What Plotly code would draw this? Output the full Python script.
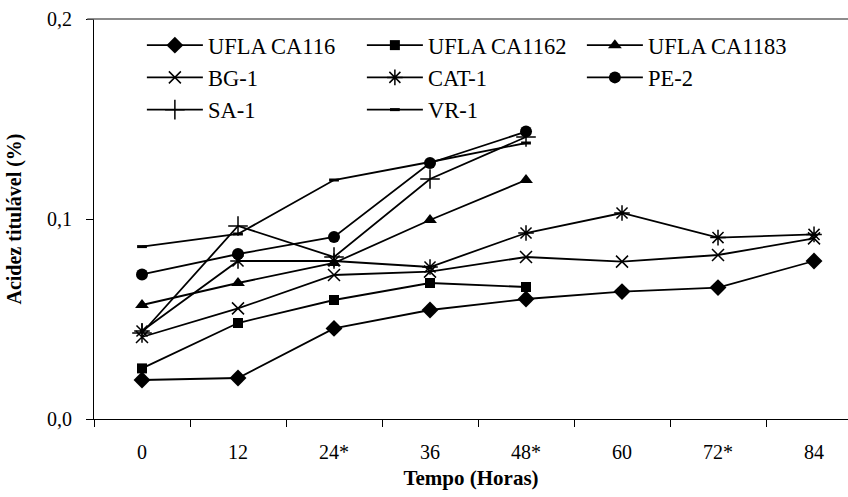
import plotly.graph_objects as go

categories = ["0", "12", "24*", "36", "48*", "60", "72*", "84"]

ufla_ca116 = [0.0195, 0.0205, 0.0453, 0.0545, 0.060, 0.0637, 0.0657, 0.079]
ufla_ca1162 = [0.0253, 0.048, 0.0595, 0.068, 0.066]
ufla_ca1183 = [0.057, 0.068, 0.078, 0.0995, 0.1195]
bg1 = [0.041, 0.0553, 0.072, 0.0737, 0.081, 0.0787, 0.082, 0.0903]
cat1 = [0.044, 0.079, 0.079, 0.076, 0.093, 0.103, 0.0907, 0.0923]
pe2 = [0.0723, 0.0825, 0.091, 0.128, 0.1437]
sa1 = [0.043, 0.0965, 0.081, 0.120, 0.141]
vr1 = [0.0862, 0.0925, 0.1195, 0.1285, 0.138]

series = [
    ("UFLA CA116", ufla_ca116, "diamond", 13, 0),
    ("UFLA CA1162", ufla_ca1162, "square", 10, 0),
    ("UFLA CA1183", ufla_ca1183, "triangle-up", 12, 0),
    ("BG-1", bg1, "x-thin-open", 12, 1.5),
    ("CAT-1", cat1, "asterisk-open", 13, 1.5),
    ("PE-2", pe2, "circle", 12, 0),
    ("SA-1", sa1, "cross-thin-open", 14, 1.5),
    ("VR-1", vr1, "line-ew-open", 7, 3),
]

FONT = "Liberation Serif, Times New Roman, serif"

fig = go.Figure()
for name, vals, sym, size, lw in series:
    fig.add_trace(go.Scatter(
        x=categories[:len(vals)], y=vals, name=name, mode="lines+markers",
        line=dict(color="black", width=1.8),
        marker=dict(symbol=sym, size=size, color="black",
                    line=dict(color="black", width=lw)),
    ))

fig.update_layout(
    width=848, height=497,
    margin=dict(l=94, r=0, t=19, b=78, autoexpand=False),
    paper_bgcolor="white", plot_bgcolor="white",
    separators=",.",
    font=dict(family=FONT, color="black", size=20),
    showlegend=True,
    legend=dict(
        orientation="h", xref="paper", yref="paper",
        x=0.0635, y=0.9875, xanchor="left", yanchor="top",
        entrywidth=149, entrywidthmode="pixels", itemwidth=56,
        font=dict(family=FONT, size=22.5, color="black"),
        bgcolor="rgba(0,0,0,0)", traceorder="normal",
    ),
    xaxis=dict(
        type="category", categoryorder="array", categoryarray=categories,
        range=[-0.5, 7.354], showgrid=False, zeroline=False,
        showline=True, linecolor="black", linewidth=1,
        ticks="outside", ticklen=7, tickcolor="black", tickson="boundaries",
        ticklabelstandoff=15,
        tickfont=dict(family=FONT, size=20),
        title=dict(text="<b>Tempo (Horas)</b>", font=dict(family=FONT, size=21), standoff=8),
    ),
    yaxis=dict(
        range=[0, 0.2], tickvals=[0, 0.1, 0.2], tickformat=".1f",
        showgrid=False, zeroline=False,
        showline=True, linecolor="black", linewidth=1,
        ticks="outside", ticklen=7, tickcolor="black",
        ticklabelstandoff=10,
        tickfont=dict(family=FONT, size=20),
        title=dict(text="<b>Acidez titulável (%)</b>", font=dict(family=FONT, size=20), standoff=20),
    ),
    shapes=[dict(type="line", xref="paper", yref="paper", x0=-0.009, x1=1, y0=1, y1=1,
                 line=dict(color="#666", width=1.5))],
)

fig.write_html("out.html")
